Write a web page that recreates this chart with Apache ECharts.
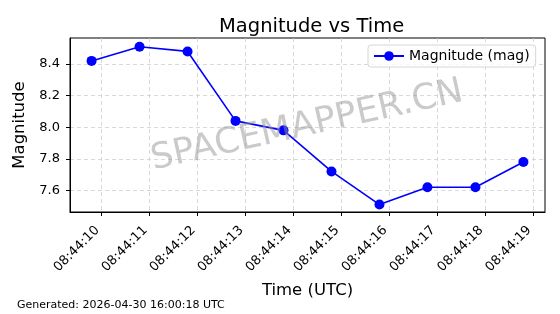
<!DOCTYPE html>
<html><head><meta charset="utf-8">
<script src="https://cdn.jsdelivr.net/npm/echarts@6/dist/echarts.min.js"></script>
<style>html,body{margin:0;padding:0;background:#fff}#c{width:560px;height:314px}</style>
</head><body><div id="c"></div>
<script>
// seconds after 08:44:00 (UTC)
const timeSeconds = [9.79, 10.79, 11.79, 12.79, 13.79, 14.79, 15.79, 16.79, 17.79, 18.79];
const magnitudes = [8.42, 8.51, 8.48, 8.04, 7.98, 7.72, 7.51, 7.62, 7.62, 7.78];
const xTickSeconds = [10, 11, 12, 13, 14, 15, 16, 17, 18, 19];
const xTickLabels = ['08:44:10','08:44:11','08:44:12','08:44:13','08:44:14','08:44:15','08:44:16','08:44:17','08:44:18','08:44:19'];
const yTicks = [7.6, 7.8, 8.0, 8.2, 8.4];

const font = 'DejaVu Sans';
const chart = echarts.init(document.getElementById('c'), null, {renderer: 'canvas'});
const gridLine = {show: true, lineStyle: {color: '#cfcfcf', type: [4, 3], width: 0.8}};
chart.setOption({
  animation: false,
  title: {text: 'Magnitude vs Time', left: 214, top: 12,
    textStyle: {fontFamily: font, fontSize: 19.5, fontWeight: 'normal', color: '#000'}},
  legend: {left: 368, top: 45, itemWidth: 30, itemHeight: 12, itemGap: 8, padding: [4, 6, 4, 5],
    borderColor: '#d6d6d6', borderWidth: 1, borderRadius: 3, backgroundColor: 'rgba(255,255,255,0.8)',
    textStyle: {fontFamily: font, fontSize: 14, color: '#000'},
    data: ['Magnitude (mag)']},
  grid: {left: 70, right: 15, top: 38, bottom: 102, show: true, borderColor: '#000', borderWidth: 1, containLabel: false},
  xAxis: {
    type: 'value', min: 9.34, max: 19.24,
    name: 'Time (UTC)', nameLocation: 'middle', nameGap: 70,
    nameTextStyle: {fontFamily: font, fontSize: 16.5, color: '#000'},
    axisLine: {show: true, lineStyle: {color: '#000', width: 1}},
    axisTick: {show: true, length: 4, lineStyle: {color: '#000'}, customValues: xTickSeconds},
    axisLabel: {rotate: 45, fontFamily: font, fontSize: 13, color: '#000', margin: 12, padding: [0, 6, 0, 0],
      customValues: xTickSeconds,
      formatter: v => xTickLabels[xTickSeconds.indexOf(Math.round(v))] || ''},
    splitLine: gridLine
  },
  yAxis: {
    type: 'value', min: 7.463, max: 8.565,
    name: 'Magnitude', nameLocation: 'middle', nameGap: 32,
    nameTextStyle: {fontFamily: font, fontSize: 16.5, color: '#000'},
    axisLine: {show: true, lineStyle: {color: '#000', width: 1}},
    axisTick: {show: true, length: 4, lineStyle: {color: '#000'}, customValues: yTicks},
    axisLabel: {fontFamily: font, fontSize: 13, color: '#000', margin: 10, customValues: yTicks,
      formatter: v => v.toFixed(1)},
    splitLine: gridLine
  },
  graphic: [
    {type: 'text', left: 17, top: 300, style: {text: 'Generated: 2026-04-30 16:00:18 UTC', font: '11px "DejaVu Sans"', fill: '#000'}},
    {type: 'text', x: 307, y: 126, rotation: 12.5 * Math.PI / 180, z: 100,
      style: {text: 'SPACEMAPPER.CN', font: '35.5px "DejaVu Sans"', fill: 'rgba(150,150,150,0.5)', align: 'center', verticalAlign: 'middle'}}
  ],
  series: [{
    name: 'Magnitude (mag)', type: 'line',
    data: timeSeconds.map((t, i) => [t, magnitudes[i]]),
    symbol: 'circle', symbolSize: 10,
    lineStyle: {color: '#0000ff', width: 1.6},
    itemStyle: {color: '#0000ff'}
  }]
});
</script></body></html>
